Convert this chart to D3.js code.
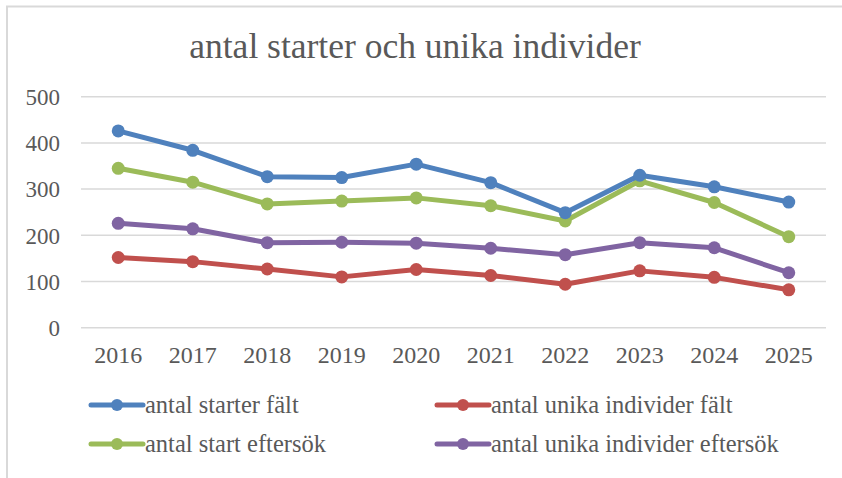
<!DOCTYPE html>
<html><head><meta charset="utf-8">
<script src="https://cdn.jsdelivr.net/npm/d3@7"></script>
<style>body{margin:0;background:#fff}svg{display:block}text{font-family:"Liberation Serif","Times New Roman",serif;fill:#595959}</style>
</head><body><svg id="c" width="842" height="478"></svg>
<script>
const years = ["2016","2017","2018","2019","2020","2021","2022","2023","2024","2025"];
const startsFalt = [426,384,327,325,354,314,249,330,305,272];
const unikaFalt = [152,143,127,110,126,113,94,123,109,82];
const startEftersok = [345,315,268,274,281,264,231,318,271,197];
const unikaEftersok = [226,214,184,185,183,172,158,184,173,119];
const yTicks = [0,100,200,300,400,500];
const seriesNames = ["antal starter fält","antal unika individer fält","antal start eftersök","antal unika individer eftersök"];
const colors = ["#4F81BD","#C0504D","#9BBB59","#8064A2"];
const series = [
  {name: seriesNames[0], values: startsFalt, color: colors[0]},
  {name: seriesNames[1], values: unikaFalt, color: colors[1]},
  {name: seriesNames[2], values: startEftersok, color: colors[2]},
  {name: seriesNames[3], values: unikaEftersok, color: colors[3]}
];
const drawOrder = [1,3,2,0];

const svg = d3.select("#c");
svg.append("path").attr("d","M7,478 V6.5 H842").attr("fill","none").attr("stroke","#d9d9d9").attr("stroke-width",2);

svg.append("text").attr("x",415).attr("y",58).attr("text-anchor","middle")
  .style("font-size","35.5px").text("antal starter och unika individer");

const x = d3.scaleBand().domain(years).range([81,826]);
const y = d3.scaleLinear().domain([0,500]).range([327.7,96.7]);

svg.append("g").selectAll("line").data(yTicks).join("line")
  .attr("x1",81).attr("x2",826).attr("y1",d=>y(d)).attr("y2",d=>y(d))
  .attr("stroke","#d9d9d9").attr("stroke-width",1.5);

const yAxis = svg.append("g").attr("transform","translate(81,0)")
  .attr("font-family","Liberation Serif").attr("font-size",23)
  .call(d3.axisLeft(y).tickValues(yTicks).tickSize(0).tickPadding(21));
yAxis.attr("font-family","Liberation Serif").attr("font-size",23);
yAxis.select(".domain").remove();
yAxis.selectAll("text").attr("fill","#595959").attr("dy","0.34em");

const xAxis = svg.append("g").attr("transform","translate(0,327.7)")
  .call(d3.axisBottom(x).tickSize(0).tickPadding(18));
xAxis.attr("font-family","Liberation Serif").attr("font-size",24);
xAxis.select(".domain").remove();
xAxis.selectAll("text").attr("fill","#595959");

const line = d3.line().x((d,i)=>x(years[i])+x.bandwidth()/2).y(d=>y(d));
drawOrder.forEach(k=>{
  const s = series[k];
  const g = svg.append("g");
  g.append("path").attr("d",line(s.values)).attr("fill","none").attr("stroke",s.color).attr("stroke-width",5).attr("stroke-linejoin","round");
  g.selectAll("circle").data(s.values).join("circle")
    .attr("cx",(d,i)=>x(years[i])+x.bandwidth()/2).attr("cy",d=>y(d)).attr("r",6.5).attr("fill",s.color);
});

const legendPos = [[91,405],[437,405],[91,444],[437,444]];
series.forEach((s,i)=>{
  const [lx,ly] = legendPos[i];
  const g = svg.append("g").attr("transform",`translate(${lx},${ly})`);
  g.append("line").attr("x1",0).attr("x2",52).attr("y1",0).attr("y2",0).attr("stroke",s.color).attr("stroke-width",5).attr("stroke-linecap","round");
  g.append("circle").attr("cx",26).attr("cy",0).attr("r",6).attr("fill",s.color);
  g.append("text").attr("x",54).attr("y",8).style("font-size","24.5px").text(s.name);
});
</script></body></html>
